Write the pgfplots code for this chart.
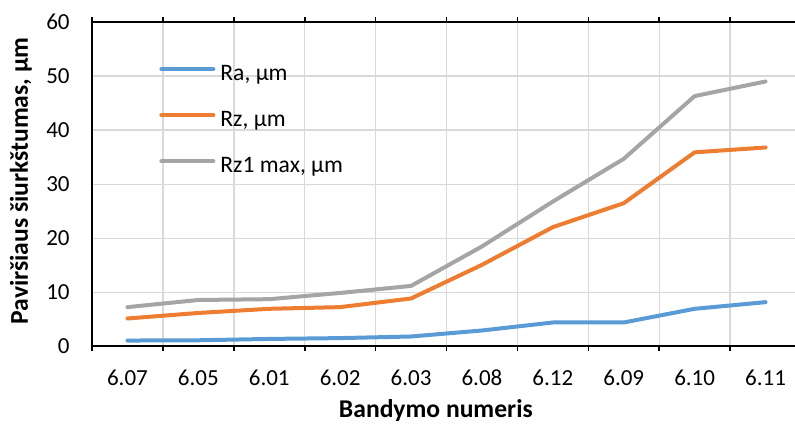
\documentclass[border=0pt]{standalone}
\usepackage{pgfplots}
\pgfplotsset{compat=1.18}
\usepackage{fontspec}
\setmainfont{Carlito}

\definecolor{raBlue}{HTML}{5B9BD5}
\definecolor{rzOrange}{HTML}{ED7D31}
\definecolor{rzGray}{HTML}{A5A5A5}
\definecolor{gridGray}{HTML}{D9D9D9}

\begin{document}
\begin{tikzpicture}
\begin{axis}[
  scale only axis,
  width=354.5pt, height=162.25pt,
  xmin=0.5, xmax=10.5,
  ymin=0, ymax=60,
  xtick={1,...,10},
  xticklabels={6.07,6.05,6.01,6.02,6.03,6.08,6.12,6.09,6.10,6.11},
  minor xtick={0.5,1.5,...,10.5},
  xminorgrids=true,
  ytick={0,10,...,60},
  ymajorgrids=true,
  major tick length=0pt,
  minor tick length=2.5pt,
  tick align=outside,
  tick style={black, line width=0.8pt},
  minor tick style={black, line width=0.8pt},
  axis line style={black, line width=1pt},
  minor grid style={gridGray, line width=0.7pt},
  major grid style={gridGray, line width=0.7pt},
  /pgf/number format/assume math mode=true,
  tick label style={font=\fontsize{11.5}{13.8}\selectfont},
  xticklabel style={anchor=north, inner sep=0pt, yshift=-11.5pt},
  yticklabel style={anchor=east, inner sep=0pt, xshift=-11pt},
  xlabel={Bandymo numeris},
  ylabel={Paviršiaus šiurkštumas, µm},
  label style={font=\fontsize{12.8}{15}\selectfont\bfseries},
  xlabel style={at={([yshift=-32pt]axis description cs:0.485,0)}, anchor=center},
  ylabel style={at={([xshift=-35.5pt]axis description cs:0,0.51)}, anchor=center},
  legend style={draw=none, fill=none,
    at={([xshift=30.5pt, yshift=-19pt]axis description cs:0,1)}, anchor=north west,
    font=\fontsize{11.8}{14}\selectfont,
    nodes={inner sep=0pt, text height=8pt, text depth=2pt},
    row sep=13pt, column sep=2.5pt},
  legend cell align=left,
  legend image code/.code={\draw[#1] (0pt,0.25em) -- (26pt,0.25em);},
  every axis plot/.append style={line width=2pt, line join=round, line cap=round},
]
\addplot[raBlue] coordinates {
  (1,1.10) (2,1.15) (3,1.40) (4,1.55) (5,1.85)
  (6,2.96) (7,4.44) (8,4.44) (9,6.97) (10,8.20)};
\addlegendentry{Ra, µm}
\addplot[rzOrange] coordinates {
  (1,5.18) (2,6.20) (3,6.97) (4,7.28) (5,8.88)
  (6,15.10) (7,22.07) (8,26.50) (9,35.90) (10,36.80)};
\addlegendentry{Rz, µm}
\addplot[rzGray] coordinates {
  (1,7.28) (2,8.60) (3,8.75) (4,9.90) (5,11.20)
  (6,18.50) (7,26.80) (8,34.70) (9,46.30) (10,49.00)};
\addlegendentry{Rz1 max, µm}
\end{axis}
\pgfresetboundingbox
\path[use as bounding box]
  ([xshift=-46pt, yshift=-40pt]current axis.south west)
  rectangle ([xshift=-3pt, yshift=11pt]current axis.north east);
\end{tikzpicture}
\end{document}
